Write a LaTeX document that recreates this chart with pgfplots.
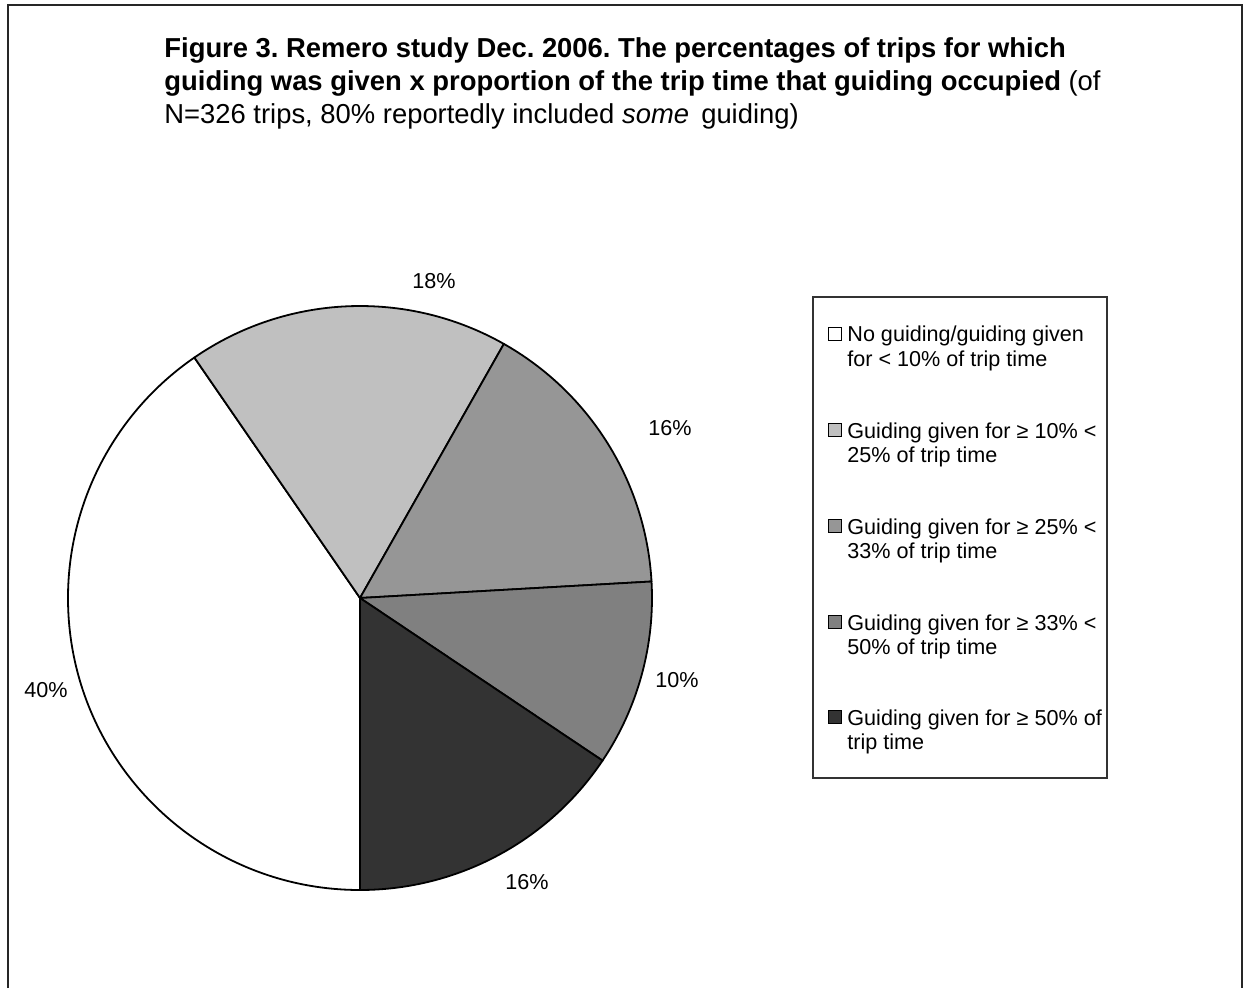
\documentclass[border=0pt]{standalone}
\usepackage{pgfplots}
\pgfplotsset{compat=1.18}
\usepackage{pgfplotstable}
\usepackage{fontspec}
\setmainfont{Liberation Sans}
\frenchspacing
\definecolor{slice0}{HTML}{FFFFFF}
\definecolor{slice1}{HTML}{C0C0C0}
\definecolor{slice2}{HTML}{969696}
\definecolor{slice3}{HTML}{808080}
\definecolor{slice4}{HTML}{333333}
\pgfplotstableread{
idx value
0 40.4
1 17.8
2 15.9
3 10.3
4 15.6
}\piedata
\newcommand{\lfont}{\fontsize{10.8pt}{12.3pt}\selectfont}
\newcommand{\tfont}{\fontsize{13.7pt}{15pt}\selectfont}
\newcommand{\legentry}[4]{%
  \pgfmathsetmacro{\ya}{#2-6.5}\pgfmathsetmacro{\yb}{#2+6.5}%
  \pgfmathsetmacro{\bla}{#2+8}\pgfmathsetmacro{\blb}{#2+32.5}%
  \edef\temp{\noexpand\filldraw[fill=slice#1, draw=black, line width=0.5pt] (axis cs:828,\ya) rectangle (axis cs:841,\yb);
   \noexpand\node[anchor=base west, inner sep=0pt, font=\noexpand\lfont] at (axis cs:847,\bla) {\unexpanded{#3}};
   \noexpand\node[anchor=base west, inner sep=0pt, font=\noexpand\lfont] at (axis cs:847,\blb) {\unexpanded{#4}};}%
  \temp}
\begin{document}
\begin{tikzpicture}
\begin{axis}[scale only axis, width=623.5pt, height=494.5pt,
  xmin=0, xmax=1247, ymin=0, ymax=989, y dir=reverse,
  hide axis, clip=false]
% canvas extent
\path (axis cs:0,0) rectangle (axis cs:1247,989);
% outer frame
\draw[line width=1pt, black!85] (axis cs:8,988) -- (axis cs:8,5) -- (axis cs:1242,5) -- (axis cs:1242,988);
% title
\node[anchor=base west, inner sep=0pt, font=\tfont\bfseries] at (axis cs:164,58) {Figure 3. Remero study Dec. 2006. The percentages of trips for which};
\node[anchor=base west, inner sep=0pt, font=\tfont] at (axis cs:164,91) {\textbf{guiding was given x proportion of the trip time that guiding occupied} (of};
\node[anchor=base west, inner sep=0pt, font=\tfont] at (axis cs:164,124) {N=326 trips, 80\% reportedly included \textit{some}\, guiding)};
% pie slices from data
\def\cum{0}
\pgfplotsforeachungrouped \i in {0,...,4}{%
  \pgfplotstablegetelem{\i}{value}\of\piedata
  \pgfmathsetmacro{\sa}{270-3.6*\cum}%
  \pgfmathsetmacro{\sb}{\sa-3.6*\pgfplotsretval}%
  \pgfmathsetmacro{\cum}{\cum+\pgfplotsretval}%
  \edef\temp{\noexpand\filldraw[fill=slice\i, draw=black, line width=0.9pt, line join=round]
    (axis cs:360,598) -- ([shift={(\sa:146pt)}]axis cs:360,598)
    arc[start angle=\sa, end angle=\sb, radius=146pt] -- cycle;}%
  \temp
}
% slice labels
\node[font=\lfont] at (axis cs:434,281) {18\%};
\node[font=\lfont] at (axis cs:670,428) {16\%};
\node[font=\lfont] at (axis cs:677,680) {10\%};
\node[font=\lfont] at (axis cs:527,882) {16\%};
\node[font=\lfont] at (axis cs:46,690) {40\%};
% legend
\draw[line width=0.7pt, black!80] (axis cs:813,297) rectangle (axis cs:1107,778);
\legentry{0}{334}{No guiding/guiding given}{for < 10\% of trip time}
\legentry{1}{430}{Guiding given for ≥ 10\% <}{25\% of trip time}
\legentry{2}{526}{Guiding given for ≥ 25\% <}{33\% of trip time}
\legentry{3}{622}{Guiding given for ≥ 33\% <}{50\% of trip time}
\legentry{4}{717}{Guiding given for ≥ 50\% of}{trip time}
\end{axis}
\end{tikzpicture}
\end{document}
